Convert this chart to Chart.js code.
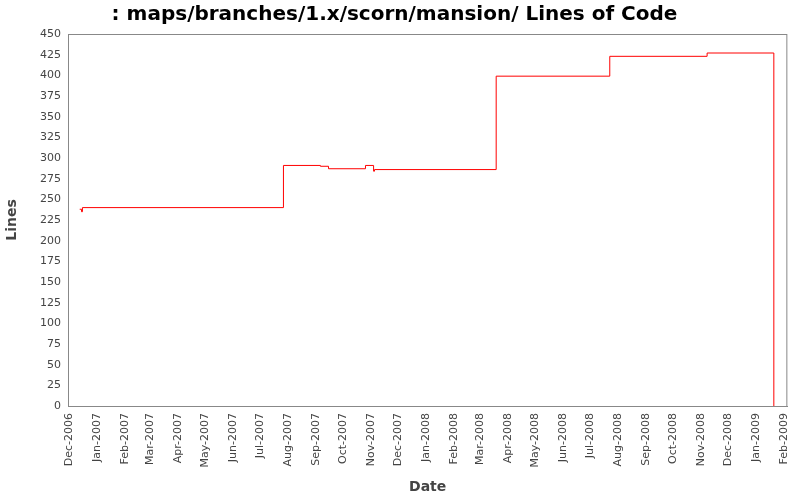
<!DOCTYPE html>
<html>
<head>
<meta charset="utf-8">
<script src="https://cdn.jsdelivr.net/npm/chart.js@4"></script>
<style>
body{margin:0;background:#fff}
canvas{display:block}
</style>
</head>
<body>
<canvas id="locChart" width="800" height="500"></canvas>
<script>
// days counted from 1 Dec 2006
const dayOffsets=[12,14,15,238,279,288,329,338,339,474,600,708,782]
const lineCounts=[238,235,240,291,290,287,291,284,286,399,423,427,0]

const monthLabels=["Dec-2006","Jan-2007","Feb-2007","Mar-2007","Apr-2007","May-2007","Jun-2007","Jul-2007","Aug-2007","Sep-2007","Oct-2007","Nov-2007","Dec-2007","Jan-2008","Feb-2008","Mar-2008","Apr-2008","May-2008","Jun-2008","Jul-2008","Aug-2008","Sep-2008","Oct-2008","Nov-2008","Dec-2008","Jan-2009","Feb-2009"]
const monthDays=[0,31,62,90,121,151,182,212,243,274,304,335,365,396,427,456,487,517,548,578,609,640,670,701,731,762,793]

const points=dayOffsets.map((d,i)=>({x:d,y:lineCounts[i]}))

const frame={
id:"frame",
afterDraw(chart){
const a=chart.chartArea
const c=chart.ctx
c.save()
c.strokeStyle="#888"
c.lineWidth=1
c.strokeRect(a.left+0.5,a.top+0.5,a.right-a.left-1,a.bottom-a.top)
c.restore()
}
}

Chart.defaults.font.family="'DejaVu Sans', sans-serif"
Chart.defaults.color="#444"

new Chart(document.getElementById("locChart"),{
type:"line",
data:{
datasets:[{
data:points,
borderColor:"#ff0000",
borderWidth:1,
pointRadius:0,
stepped:"before",
fill:false
}]
},
options:{
responsive:false,
devicePixelRatio:1,
animation:false,
layout:{padding:{right:11,top:0,bottom:0,left:0}},
plugins:{
legend:{display:false},
tooltip:{enabled:false},
title:{
display:true,
text:": maps/branches/1.x/scorn/mansion/ Lines of Code",
color:"#000",
font:{size:20,weight:"bold"},
padding:{top:3,bottom:7}
}
},
scales:{
x:{
type:"linear",
min:-1,
max:797,
grid:{display:false,drawTicks:true,tickLength:4},
border:{color:"#888"},
afterBuildTicks(axis){axis.ticks=monthDays.map(v=>({value:v}))},
ticks:{
autoSkip:false,
minRotation:90,
maxRotation:90,
font:{size:11},
callback:(v)=>monthLabels[monthDays.indexOf(v)]
},
title:{display:true,text:"Date",color:"#444",font:{size:14,weight:"bold"}},
afterFit(axis){axis.height=94}
},
y:{
min:0,
max:450,
grid:{display:false,drawTicks:true,tickLength:4},
border:{color:"#888"},
ticks:{stepSize:25,font:{size:11}},
title:{display:true,text:"Lines",color:"#444",font:{size:14,weight:"bold"}},
afterFit(axis){axis.width=68}
}
}
},
plugins:[frame]
})
</script>
</body>
</html>
